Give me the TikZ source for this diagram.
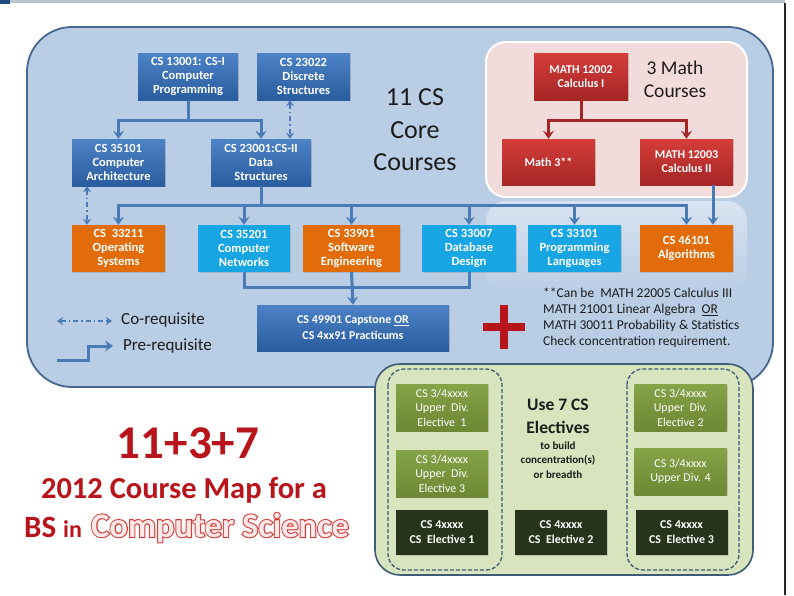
\documentclass[tikz,border=0pt]{standalone}
\usepackage{fontspec}
\setmainfont{Carlito}
\newfontface\mapheavy[FakeBold=6]{Carlito Bold}
\usetikzlibrary{arrows.meta,positioning,calc,shadows}
\definecolor{MapSky}{HTML}{B9CDE5}
\definecolor{MapFrame}{HTML}{45668E}
\definecolor{MapRose}{HTML}{F2DCDB}
\definecolor{MapSage}{HTML}{D7E4BD}
\definecolor{MapSlate}{HTML}{3E5B78}
\definecolor{MapLink}{HTML}{4A7BB7}
\definecolor{MapBlueTop}{HTML}{4C82C6}
\definecolor{MapBlueBot}{HTML}{2A5D9F}
\definecolor{MapOrange}{HTML}{E36C0A}
\definecolor{MapCyan}{HTML}{17A6E3}
\definecolor{MapRedTop}{HTML}{D43D3A}
\definecolor{MapRedBot}{HTML}{A52626}
\definecolor{MapOliveTop}{HTML}{85A347}
\definecolor{MapOliveBot}{HTML}{6C8834}
\definecolor{MapDark}{HTML}{25341A}
\definecolor{MapRed}{HTML}{B8141C}
\definecolor{MapPale}{HTML}{FBE8E8}
\definecolor{MapInk}{HTML}{1C1C1C}
\tikzset{
  mapcourse/.style={
    text=white,
    font=\bfseries\fontsize{12.5}{14}\selectfont,
    align=center,
    minimum height=47pt,
    inner sep=1pt,
    drop shadow={shadow xshift=1.2pt,shadow yshift=-1.2pt,opacity=.3}
  },
  mapcore/.style={mapcourse,top color=MapBlueTop,bottom color=MapBlueBot},
  mapupper/.style={mapcourse,fill=MapOrange},
  mapother/.style={mapcourse,fill=MapCyan},
  mapmath/.style={mapcourse,top color=MapRedTop,bottom color=MapRedBot,
    font=\bfseries\fontsize{12}{14}\selectfont},
  mapelect/.style={mapcourse,top color=MapOliveTop,bottom color=MapOliveBot,
    font=\fontsize{12}{14.5}\selectfont,minimum width=92pt},
  mapdark/.style={mapcourse,fill=MapDark,minimum height=45pt,minimum width=92pt,
    font=\bfseries\fontsize{12}{15}\selectfont},
  mapprereq/.style={-{Stealth[length=8pt,width=11pt,inset=3pt]},line width=3pt,draw=MapLink},
  mapline/.style={line width=3pt,draw=MapLink},
  mapcoreq/.style={{Stealth[length=6pt,width=8pt]}-{Stealth[length=6pt,width=8pt]},
    line width=2pt,draw=MapLink,dash pattern=on 5pt off 3pt on 1.5pt off 3pt},
  maplegend/.style={text=MapInk,font=\fontsize{17}{20}\selectfont,anchor=west,inner sep=0pt}
}

\begin{document}
\begin{tikzpicture}[x=1pt,y=-1pt]
  \useasboundingbox (0,0) rectangle (794,595);
  \fill[white] (0,0) rectangle (794,595);
  \fill[black!20!MapFrame!35] (0,0) rectangle (785,3);
  \fill[MapBlueBot!80!black] (0,0) rectangle (10,4);
  \draw[black!85,line width=1.5pt] (785,3) -- (785,595);

  % plates
  \draw[MapFrame,fill=MapSky,line width=1.8pt,rounded corners=45pt] (27,27) rectangle (773,387);
  \draw[white,fill=MapRose,line width=2pt,rounded corners=20pt] (486,42) rectangle (747,197);
  \shade[top color=MapSky!55!white,bottom color=MapSky,rounded corners=20pt]
    (486,201) rectangle (747,292);
  \draw[MapSlate,fill=MapSage,line width=1.6pt,rounded corners=25pt] (375,364) rectangle (753,575);
  \draw[MapSlate,line width=1.3pt,dash pattern=on 4pt off 2pt,rounded corners=16pt]
    (388,369) rectangle (502,570);
  \draw[MapSlate,line width=1.3pt,dash pattern=on 4pt off 2pt,rounded corners=16pt]
    (627,369) rectangle (739,570);

  % core courses
  \node[mapcore,minimum width=100pt] (prog) at (188,76.5) {CS 13001: CS-I\\Computer\\Programming};
  \node[mapcore,minimum width=93pt] (disc) at (303.5,76.5) {CS 23022\\Discrete\\Structures};
  \node[mapcore,minimum width=93pt] (arch) at (118.5,162.5) {CS 35101\\Computer\\Architecture};
  \node[mapcore,minimum width=100pt] (data) at (261,162.5) {CS 23001:CS-II\\Data\\Structures};
  \node[mapupper,minimum width=93pt] (os) at (118.5,248.5) {CS\ \ 33211\\Operating\\Systems};
  \node[mapother,minimum width=92pt] (net) at (244,248.5) {CS 35201\\Computer\\Networks};
  \node[mapupper,minimum width=97pt] (soft) at (351.5,248.5) {CS 33901\\Software\\Engineering};
  \node[mapother,minimum width=94pt] (dbase) at (469,248.5) {CS 33007\\Database\\Design};
  \node[mapother,minimum width=93pt] (lang) at (574.5,248.5) {CS 33101\\Programming\\Languages};
  \node[mapupper,minimum width=93pt] (algo) at (686.5,248.5) {CS 46101\\Algorithms};
  \node[mapcore,minimum width=192pt,minimum height=46pt,font=\bfseries\fontsize{12}{16}\selectfont]
    (capstone) at (353,328) {CS 49901 Capstone \underline{OR}\\CS 4xx91 Practicums};

  % math courses
  \node[mapmath,minimum width=94pt] (calcA) at (581,76.5) {MATH 12002\\Calculus I};
  \node[mapmath,minimum width=93pt,minimum height=46pt] (mathx) at (548.5,162) {Math 3**};
  \node[mapmath,minimum width=93pt,minimum height=46pt] (calcB) at (686.5,162) {MATH 12003\\Calculus II};

  % electives
  \node[mapelect] (upA) at (442,407.5) {CS 3/4xxxx\\Upper\ \ Div.\\Elective\ \ 1};
  \node[mapelect] (upC) at (442,473.5) {CS 3/4xxxx\\Upper\ \ Div.\\Elective 3};
  \node[mapelect] (upB) at (680.5,407.5) {CS 3/4xxxx\\Upper\ \ Div.\\Elective 2};
  \node[mapelect] (upD) at (680.5,471.5) {CS 3/4xxxx\\Upper Div. 4};
  \node[mapdark] (elA) at (442,532.5) {CS 4xxxx\\CS\ \ Elective 1};
  \node[mapdark] (elB) at (561,532.5) {CS 4xxxx\\CS\ \ Elective 2};
  \node[mapdark] (elC) at (681.5,532.5) {CS 4xxxx\\CS\ \ Elective 3};

  % headings
  \node[text=MapInk,font=\fontsize{26}{32.5}\selectfont,align=center] (coreHead) at (415,130)
    {11 CS\\Core\\Courses};
  \node[text=MapInk,font=\fontsize{19.5}{23}\selectfont,align=center] (mathHead) at (675,79.5)
    {3 Math\\Courses};
  \node[text=MapInk,font=\bfseries\fontsize{17.5}{23}\selectfont,align=center] (electHead) at (558,416)
    {Use 7 CS\\Electives};
  \node[text=MapInk,font=\bfseries\fontsize{11}{14.5}\selectfont,align=center,below=1pt of electHead]
    (electSub) {to build\\concentration(s)\\or breadth};
  \node[text=MapInk,font=\fontsize{13.5}{16}\selectfont,align=left,anchor=north west,inner sep=0pt]
    (note) at (543,288) {**Can be\ \ MATH 22005 Calculus III\\MATH 21001 Linear Algebra\ \ \underline{OR}\\
    MATH 30011 Probability \& Statistics\\Check concentration requirement.};

  % title
  \node[text=MapRed,font=\bfseries\fontsize{47}{47}\selectfont] (sum) at (188,443) {11+3+7};
  \node[text=MapRed,font=\bfseries\fontsize{30.5}{30}\selectfont] (mapTitle) at (184,490) {2012 Course Map for a};
  \node[text=MapRed,anchor=base west,inner sep=0pt] (degree) at (24,537)
    {\bfseries\fontsize{31}{31}\selectfont BS \fontsize{24}{24}\selectfont in};
  \node[anchor=base west,inner sep=0pt,font=\fontsize{34.5}{34.5}\selectfont] (science) at (91,537)
    {\rlap{\color{MapRedTop}\mapheavy Computer Science}\color{MapPale}\bfseries Computer Science};

  % plus sign
  \draw[MapRed,line width=8pt] (483,327) -- (525,327);
  \draw[MapRed,line width=8pt] (504,305) -- (504,349);

  % prerequisites
  \coordinate (progBus) at ($(prog.south)+(0,20)$);
  \draw[mapline] (prog.south) -- (progBus);
  \draw[mapprereq] (progBus) -| (arch.north);
  \draw[mapprereq] (progBus) -| (data.north);
  \coordinate (dataBus) at ($(data.south)+(0,19)$);
  \draw[mapline] (data.south) -- (dataBus);
  \foreach \crs in {os,net,soft,dbase,lang,algo}
    \draw[mapprereq] (dataBus) -| (\crs.north);
  \draw[mapline] (net.south) -- ++(0,15) -| (dbase.south);
  \draw[mapprereq] (soft.south) -- (capstone.north);
  \coordinate (calcBus) at ($(calcA.south)+(0,20)$);
  \draw[mapline,draw=MapRedBot] (calcA.south) -- (calcBus);
  \draw[mapprereq,draw=MapRedBot] (calcBus) -| (mathx.north);
  \draw[mapprereq,draw=MapRedBot] (calcBus) -| (calcB.north);
  \draw[mapprereq] ([xshift=26.5pt]calcB.south) -- ([xshift=26.5pt]algo.north);

  % corequisites
  \draw[mapcoreq] ([xshift=-13.5pt]disc.south) -- ([xshift=-13.5pt]disc.south |- data.north);
  \draw[mapcoreq] ([xshift=-31.5pt]arch.south) -- ([xshift=-31.5pt]os.north);

  % legend
  \coordinate (coFrom) at (57,321);
  \coordinate (coTo) at (112,321);
  \draw[mapcoreq] (coFrom) -- (coTo);
  \node[maplegend] (coLabel) at (121,320) {Co-requisite};
  \coordinate (preFrom) at (57,360);
  \coordinate (preTo) at (113,346);
  \draw[mapprereq] (preFrom) -- ++(31,0) |- (preTo);
  \node[maplegend] (preLabel) at (123,346) {Pre-requisite};
\end{tikzpicture}
\end{document}
